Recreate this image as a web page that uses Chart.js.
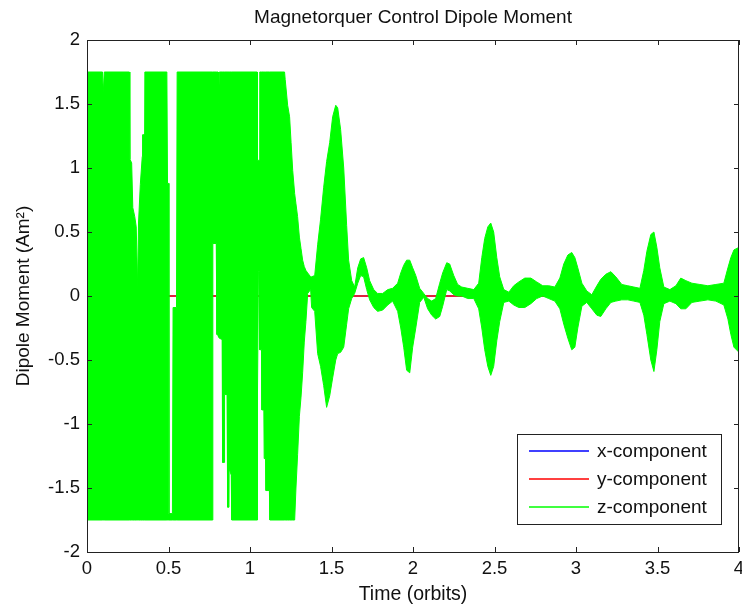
<!DOCTYPE html>
<html>
<head>
<meta charset="utf-8">
<title>Magnetorquer Control Dipole Moment</title>
<script src="https://cdn.jsdelivr.net/npm/chart.js@4.4.1/dist/chart.umd.min.js"></script>
<style>
  html, body { margin: 0; padding: 0; background: #fff; }
  #wrap { width: 742px; height: 608px; }
</style>
</head>
<body>
<div id="wrap"><canvas id="dipole_chart" width="742" height="608"></canvas></div>
<script>
// x- and y-components stay on zero for the whole run
var compTime = [0, 1, 2, 3, 4];
var xComp = [0, 0, 0, 0, 0];
var yComp = [0, 0, 0, 0, 0];

// z-component: the signal switches too fast to resolve, so it is kept
// as its upper and lower envelope, time in orbits
var zTime = [
  0, 0.095, 0.100, 0.106, 0.260, 0.263, 0.274, 0.281, 0.293, 0.302,
  0.311, 0.316, 0.327, 0.339, 0.341, 0.351, 0.355, 0.490, 0.494, 0.500,
  0.503, 0.524, 0.528, 0.549, 0.553, 0.769, 0.772, 0.793, 0.797, 0.804,
  0.807, 0.812, 0.829, 0.832, 0.842, 0.844, 0.859, 0.863, 0.871, 0.872,
  0.885, 0.888, 1.044, 1.046, 1.052, 1.059, 1.060, 1.071, 1.073, 1.085,
  1.087, 1.096, 1.098, 1.119, 1.122, 1.212, 1.216, 1.231, 1.243, 1.252,
  1.262, 1.274, 1.282, 1.292, 1.303, 1.313, 1.323, 1.333, 1.343, 1.354,
  1.372, 1.378, 1.397, 1.415, 1.433, 1.452, 1.470, 1.489, 1.507, 1.526,
  1.538, 1.556, 1.575, 1.593, 1.605, 1.624, 1.642, 1.661, 1.679, 1.697,
  1.716, 1.734, 1.759, 1.783, 1.814, 1.845, 1.875, 1.906, 1.925, 1.943,
  1.961, 1.980, 1.998, 2.017, 2.041, 2.066, 2.090, 2.115, 2.139, 2.164,
  2.182, 2.207, 2.225, 2.250, 2.274, 2.299, 2.336, 2.373, 2.403, 2.422,
  2.440, 2.459, 2.477, 2.495, 2.514, 2.532, 2.557, 2.588, 2.618, 2.649,
  2.686, 2.723, 2.759, 2.796, 2.833, 2.870, 2.901, 2.925, 2.950, 2.974,
  2.993, 3.011, 3.036, 3.066, 3.097, 3.128, 3.152, 3.183, 3.214, 3.244,
  3.281, 3.318, 3.355, 3.392, 3.416, 3.435, 3.459, 3.478, 3.496, 3.514,
  3.539, 3.576, 3.613, 3.643, 3.674, 3.711, 3.760, 3.809, 3.858, 3.907,
  3.932, 3.950, 3.969, 4.000
];
var zUpper = [
  1.75, 1.75, 1.59, 1.75, 1.75, 1.07, 1.04, 0.69, 0.62, 0.54,
  0.07, 0.57, 0.87, 1.09, 1.26, 1.26, 1.75, 1.75, 0.88, 0.88,
  -1.70, -1.70, -0.09, -0.09, 1.75, 1.75, 1.75, 1.75, 1.75, 1.75,
  1.51, 1.75, 1.75, 1.75, 1.75, 1.75, 1.75, 1.75, 1.75, 1.75,
  1.75, 1.75, 1.75, 1.06, 1.06, 1.06, 1.75, 1.75, 1.75, 1.75,
  1.75, 1.75, 1.75, 1.75, 1.75, 1.75, 1.69, 1.49, 1.40, 1.20,
  0.98, 0.80, 0.72, 0.62, 0.46, 0.37, 0.28, 0.23, 0.20, 0.18,
  0.15, 0.15, 0.16, 0.40, 0.60, 0.85, 1.05, 1.20, 1.40, 1.49,
  1.47, 1.30, 1.00, 0.55, 0.28, 0.12, 0.07, 0.22, 0.29, 0.30,
  0.22, 0.12, 0.05, 0.02, 0.02, 0.05, 0.06, 0.10, 0.18, 0.24,
  0.28, 0.28, 0.22, 0.16, 0.06, 0.02, -0.02, -0.04, -0.02, 0.10,
  0.18, 0.26, 0.25, 0.16, 0.09, 0.07, 0.06, 0.05, 0.10, 0.30,
  0.45, 0.54, 0.57, 0.50, 0.30, 0.15, 0.05, 0.03, 0.08, 0.11,
  0.14, 0.14, 0.11, 0.08, 0.08, 0.07, 0.14, 0.25, 0.32, 0.34,
  0.30, 0.22, 0.10, 0.04, 0.01, 0.08, 0.13, 0.17, 0.19, 0.15,
  0.09, 0.08, 0.07, 0.06, 0.20, 0.35, 0.48, 0.50, 0.38, 0.22,
  0.07, 0.05, 0.08, 0.14, 0.12, 0.10, 0.09, 0.08, 0.09, 0.10,
  0.22, 0.30, 0.36, 0.38
];
var zLower = [
  -1.75, -1.75, -1.75, -1.75, -1.75, -1.75, -1.75, -1.75, -1.75, -1.75,
  -1.75, -1.75, -1.75, -1.75, -1.75, -1.75, -1.75, -1.75, -1.75, -1.75,
  -1.75, -1.75, -1.75, -1.75, -1.75, -1.75, 0.41, 0.41, -0.30, -0.31,
  -0.32, -0.33, -0.34, -1.30, -1.30, -0.77, -0.77, -1.65, -1.65, -1.35,
  -1.40, -1.75, -1.75, -0.75, 0.19, 0.19, -0.42, -0.42, -0.89, -0.89,
  -1.27, -1.27, -1.52, -1.52, -1.75, -1.75, -1.75, -1.75, -1.75, -1.75,
  -1.75, -1.75, -1.50, -1.24, -0.94, -0.79, -0.60, -0.36, -0.20, 0.02,
  0.05, -0.09, -0.12, -0.45, -0.55, -0.70, -0.87, -0.78, -0.64, -0.50,
  -0.45, -0.44, -0.40, -0.22, -0.10, -0.02, 0.02, 0.10, 0.16, 0.15,
  0.05, -0.03, -0.09, -0.12, -0.11, -0.07, -0.04, -0.12, -0.25, -0.40,
  -0.58, -0.60, -0.40, -0.25, -0.05, -0.01, -0.10, -0.15, -0.18, -0.16,
  -0.08, 0.05, 0.04, 0.01, 0.00, 0.00, -0.02, -0.02, -0.10, -0.25,
  -0.42, -0.55, -0.62, -0.55, -0.35, -0.20, -0.05, -0.04, -0.07, -0.09,
  -0.09, -0.06, -0.02, 0.00, -0.02, -0.04, -0.10, -0.22, -0.33, -0.42,
  -0.40, -0.25, -0.08, -0.05, -0.10, -0.15, -0.16, -0.10, -0.05, -0.04,
  -0.03, -0.03, -0.04, -0.05, -0.15, -0.30, -0.50, -0.59, -0.42, -0.20,
  -0.06, -0.04, -0.06, -0.10, -0.10, -0.05, -0.04, -0.03, -0.04, -0.07,
  -0.18, -0.30, -0.40, -0.44
];

var FONT = "'Liberation Sans', Arial, sans-serif";
var TEXT = '#111';

function toPoints(ts, vs) {
  return ts.map(function(t, i) { return { x: t, y: vs[i] }; });
}

// matlab style box with inward ticks on all four sides
var axisBox = {
  id: 'axisBox',
  afterDatasetsDraw: function(chart) {
    var ctx = chart.ctx, a = chart.chartArea;
    var xs = chart.scales.x, ys = chart.scales.y;
    ctx.save();
    ctx.strokeStyle = '#222';
    ctx.lineWidth = 1;
    ctx.beginPath();
    xs.ticks.forEach(function(t) {
      var px = Math.round(xs.getPixelForValue(t.value)) + 0.5;
      ctx.moveTo(px, a.bottom); ctx.lineTo(px, a.bottom - 5);
      ctx.moveTo(px, a.top); ctx.lineTo(px, a.top + 5);
    });
    ys.ticks.forEach(function(t) {
      var py = Math.round(ys.getPixelForValue(t.value)) + 0.5;
      ctx.moveTo(a.left, py); ctx.lineTo(a.left + 5, py);
      ctx.moveTo(a.right, py); ctx.lineTo(a.right - 5, py);
    });
    ctx.stroke();
    ctx.strokeRect(a.left + 0.5, a.top + 0.5, a.right - a.left - 1, a.bottom - a.top);
    ctx.restore();
  }
};

// legend box in the lower right corner of the axes
var plotLegend = {
  id: 'plotLegend',
  afterDraw: function(chart) {
    var ctx = chart.ctx, a = chart.chartArea;
    var items = chart.data.datasets.filter(function(d) { return d.inLegend; });
    var w = 204, h = 90;
    var left = Math.round(a.right - 18 - w), top = Math.round(a.bottom - 28 - h);
    ctx.save();
    ctx.fillStyle = '#fff';
    ctx.fillRect(left, top, w, h);
    ctx.strokeStyle = '#222';
    ctx.lineWidth = 1;
    ctx.strokeRect(left + 0.5, top + 0.5, w, h);
    ctx.font = '19px ' + FONT;
    ctx.textBaseline = 'middle';
    items.forEach(function(d, i) {
      var yy = top + 17 + i * 28;
      ctx.strokeStyle = d.borderColor;
      ctx.lineWidth = 1.6;
      ctx.beginPath();
      ctx.moveTo(left + 12, yy);
      ctx.lineTo(left + 72, yy);
      ctx.stroke();
      ctx.fillStyle = TEXT;
      ctx.fillText(d.label, left + 80, yy + 1);
    });
    ctx.restore();
  }
};

function plainTick(v) { return String(v); }

var dipole_chart = new Chart(document.getElementById('dipole_chart'), {
  type: 'line',
  data: {
    datasets: [
      {
        label: 'x-component',
        data: toPoints(compTime, xComp),
        borderColor: '#0000ff',
        borderWidth: 1,
        pointRadius: 0,
        order: 2,
        inLegend: true
      },
      {
        label: 'y-component',
        data: toPoints(compTime, yComp),
        borderColor: '#ff0000',
        borderWidth: 1.3,
        pointRadius: 0,
        order: 1,
        inLegend: true
      },
      {
        label: 'z-component',
        data: toPoints(zTime, zUpper),
        borderColor: '#00ff00',
        borderWidth: 1,
        pointRadius: 0,
        fill: false,
        order: 0,
        inLegend: true
      },
      {
        label: 'z-component lower',
        data: toPoints(zTime, zLower),
        borderColor: '#00ff00',
        backgroundColor: '#00ff00',
        borderWidth: 1,
        pointRadius: 0,
        fill: '-1',
        order: 0,
        inLegend: false
      }
    ]
  },
  options: {
    responsive: false,
    animation: false,
    devicePixelRatio: 1,
    events: [],
    layout: { padding: { left: 0, right: 3, top: 0, bottom: 0 } },
    elements: { line: { tension: 0 } },
    plugins: {
      legend: { display: false },
      tooltip: { enabled: false },
      title: {
        display: true,
        fullSize: false,
        text: 'Magnetorquer Control Dipole Moment',
        color: TEXT,
        font: { family: FONT, size: 19, weight: 'normal' },
        padding: { top: 6, bottom: 11.2 }
      }
    },
    scales: {
      x: {
        type: 'linear',
        min: 0,
        max: 4,
        ticks: {
          stepSize: 0.5,
          autoSkip: false,
          maxRotation: 0,
          padding: 6,
          color: TEXT,
          font: { family: FONT, size: 18.5 },
          callback: plainTick
        },
        grid: { display: false, drawTicks: false },
        border: { display: false },
        title: {
          display: true,
          text: 'Time (orbits)',
          color: TEXT,
          font: { family: FONT, size: 19.5 },
          padding: { top: 0, bottom: 2 }
        },
        afterFit: function(scale) {
          scale.height = 56;
          scale.paddingLeft = 0;
          scale.paddingRight = 0;
        }
      },
      y: {
        type: 'linear',
        min: -2,
        max: 2,
        ticks: {
          stepSize: 0.5,
          padding: 7,
          color: TEXT,
          font: { family: FONT, size: 18.5 },
          callback: plainTick
        },
        grid: { display: false, drawTicks: false },
        border: { display: false },
        title: {
          display: true,
          text: 'Dipole Moment (Am²)',
          color: TEXT,
          font: { family: FONT, size: 19 },
          padding: { top: 12, bottom: 0 }
        },
        afterFit: function(scale) {
          scale.width = 87;
          scale.paddingTop = 0;
          scale.paddingBottom = 0;
        }
      }
    }
  },
  plugins: [axisBox, plotLegend]
});
</script>
</body>
</html>
